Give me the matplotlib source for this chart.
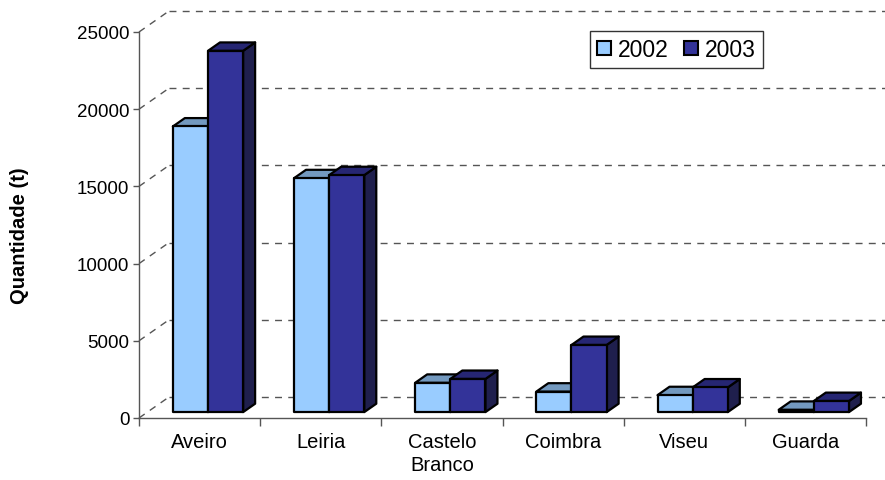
import matplotlib
matplotlib.use("Agg")
import matplotlib.pyplot as plt
from matplotlib.patches import Polygon, Patch

# data
categories = ["Aveiro", "Leiria", "Castelo\nBranco", "Coimbra", "Viseu", "Guarda"]
series_names = ["2002", "2003"]
values_2002 = [18500, 15150, 1900, 1330, 1100, 150]
values_2003 = [23400, 15350, 2150, 4350, 1600, 720]
yticks = [0, 5000, 10000, 15000, 20000, 25000]

# front, top, side colours of each series
colors_2002 = ("#99CCFF", "#7399BF", "#4D6680")
colors_2003 = ("#333399", "#262673", "#1F1F4D")

plt.rcParams["font.family"] = ["Liberation Sans", "DejaVu Sans"]

W, H = 885, 481
fig = plt.figure(figsize=(W / 100, H / 100), dpi=100)
ax = fig.add_axes([139 / W, 1 - 419 / H, (866 - 139) / W, (419 - 33) / H])
ax.set_xlim(0, len(categories))
ax.set_ylim(0, 25000)

# how much one pixel is in data units, used for the fake 3d depth
p0 = ax.transData.transform((0, 0))
p1 = ax.transData.transform((1, 1000))
ux = 1.0 / (p1[0] - p0[0])
uy = 1000.0 / (p1[1] - p0[1])
depth_dx = 30 * ux
depth_dy = 21 * uy

grid_style = dict(color="#555555", lw=1.0, linestyle=(0, (5, 4.5)), clip_on=False, zorder=1)
for t in yticks:
    # back wall gridline and the diagonal on the side wall
    ax.plot([depth_dx, len(categories) + depth_dx], [t + depth_dy] * 2, **grid_style)
    ax.plot([0, depth_dx], [t, t + depth_dy], **grid_style)


def draw_bar(x0, x1, v, cols):
    """Draw one pseudo 3d bar: side, top and front face"""
    front, top, side = cols
    zf, zb = 0.28, 0.68
    fx, fy = zf * depth_dx, zf * depth_dy
    bx, by = zb * depth_dx, zb * depth_dy
    kw = dict(edgecolor="black", lw=1.6, joinstyle="round", clip_on=False, zorder=3)
    ax.add_patch(Polygon([(x1 + fx, fy), (x1 + bx, by), (x1 + bx, v + by), (x1 + fx, v + fy)],
                         facecolor=side, **kw))
    ax.add_patch(Polygon([(x0 + fx, v + fy), (x1 + fx, v + fy), (x1 + bx, v + by), (x0 + bx, v + by)],
                         facecolor=top, **kw))
    ax.add_patch(Polygon([(x0 + fx, fy), (x1 + fx, fy), (x1 + fx, v + fy), (x0 + fx, v + fy)],
                         facecolor=front, **kw))


w = 0.29
for i, (a, b) in enumerate(zip(values_2002, values_2003)):
    c = i + 0.5
    draw_bar(c - w, c, a, colors_2002)
    draw_bar(c, c + w, b, colors_2003)

# axes
for s in ["top", "right"]:
    ax.spines[s].set_visible(False)
for s in ["left", "bottom"]:
    ax.spines[s].set_color("#555555")
    ax.spines[s].set_linewidth(1.0)
ax.patch.set_visible(False)

ax.set_yticks(yticks)
ax.set_yticklabels([str(t) for t in yticks])
ax.tick_params(axis="y", direction="out", length=4, width=1, color="#555555",
               labelsize=13.5, pad=3)

ax.set_xticks(range(len(categories) + 1))
ax.set_xticklabels([])
ax.set_xticks([i + 0.5 for i in range(len(categories))], minor=True)
ax.set_xticklabels(categories, minor=True)
ax.tick_params(axis="x", which="major", direction="out", length=6, width=1, color="#555555")
ax.tick_params(axis="x", which="minor", length=0, labelsize=14.5, pad=10)
for lbl in ax.get_xticklabels(minor=True):
    lbl.set_linespacing(1.3)

fig.text(20 / W, 1 - 236 / H, "Quantidade (t)", rotation=90, fontweight="bold",
         fontsize=14.5, ha="center", va="center")

handles = [Patch(facecolor=colors_2002[0], edgecolor="black", lw=1.5),
           Patch(facecolor=colors_2003[0], edgecolor="black", lw=1.5)]
leg = fig.legend(handles, series_names, loc="upper left",
                 bbox_to_anchor=(590 / W, 1 - 32 / H), ncol=2, fontsize=16.5,
                 frameon=True, fancybox=False, borderaxespad=0, borderpad=0.3,
                 handlelength=0.6, handleheight=0.6, handletextpad=0.3,
                 columnspacing=0.7)
leg.get_frame().set_edgecolor("black")
leg.get_frame().set_linewidth(1.0)

fig.savefig("out.png", dpi=100)
